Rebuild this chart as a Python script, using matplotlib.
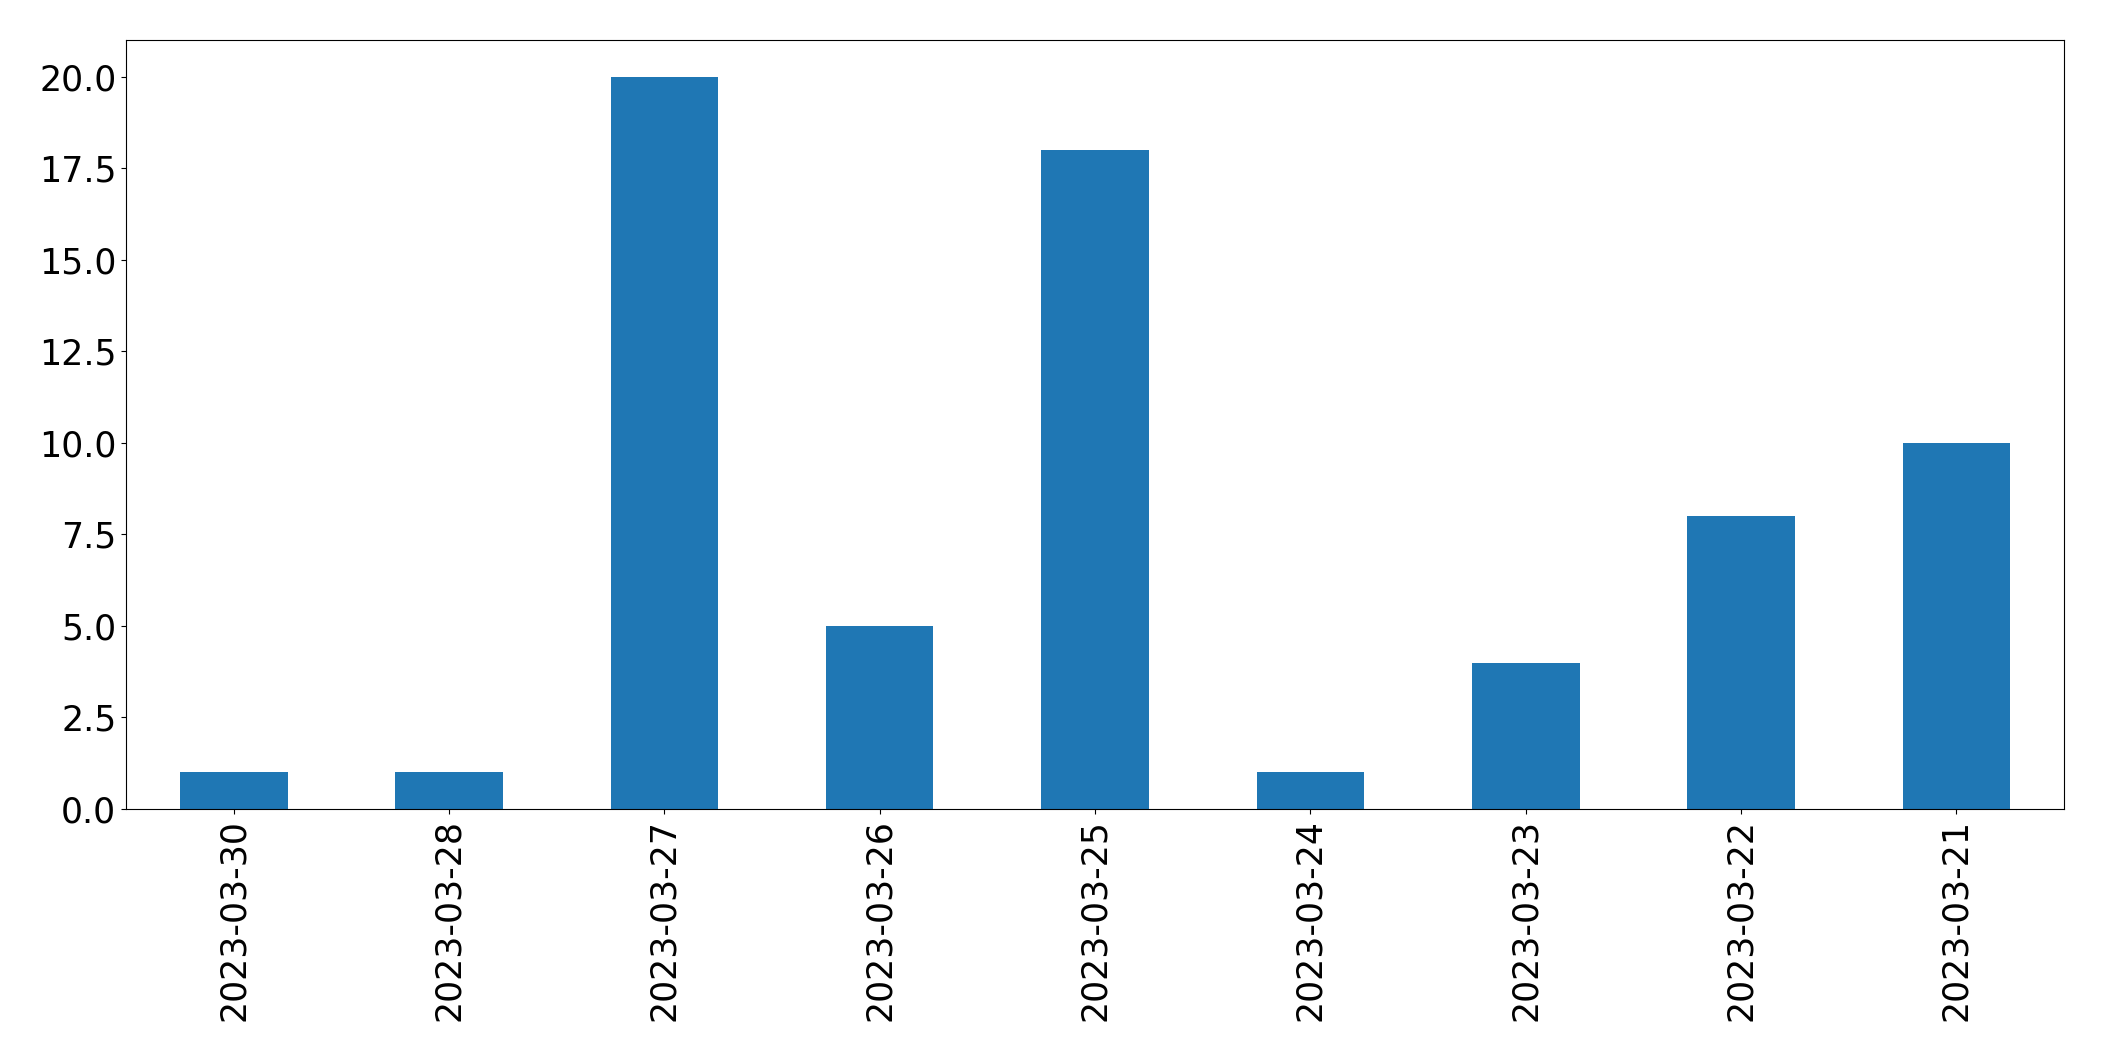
import matplotlib
matplotlib.use('Agg')
import matplotlib.pyplot as plt
import pandas as pd

dates = ['2023-03-30', '2023-03-28', '2023-03-27', '2023-03-26', '2023-03-25',
         '2023-03-24', '2023-03-23', '2023-03-22', '2023-03-21']
counts = [1, 1, 20, 5, 18, 1, 4, 8, 10]

plt.rcParams.update({'font.size': 25})

s = pd.Series(counts, index=dates)
fig, ax = plt.subplots(figsize=(21.04, 10.61), dpi=100)
s.plot(kind='bar', ax=ax, color='#1f77b4')
fig.subplots_adjust(left=126/2104, right=2064/2104, top=1-40/1061, bottom=1-809/1061)
fig.savefig('out.png', dpi=100)
